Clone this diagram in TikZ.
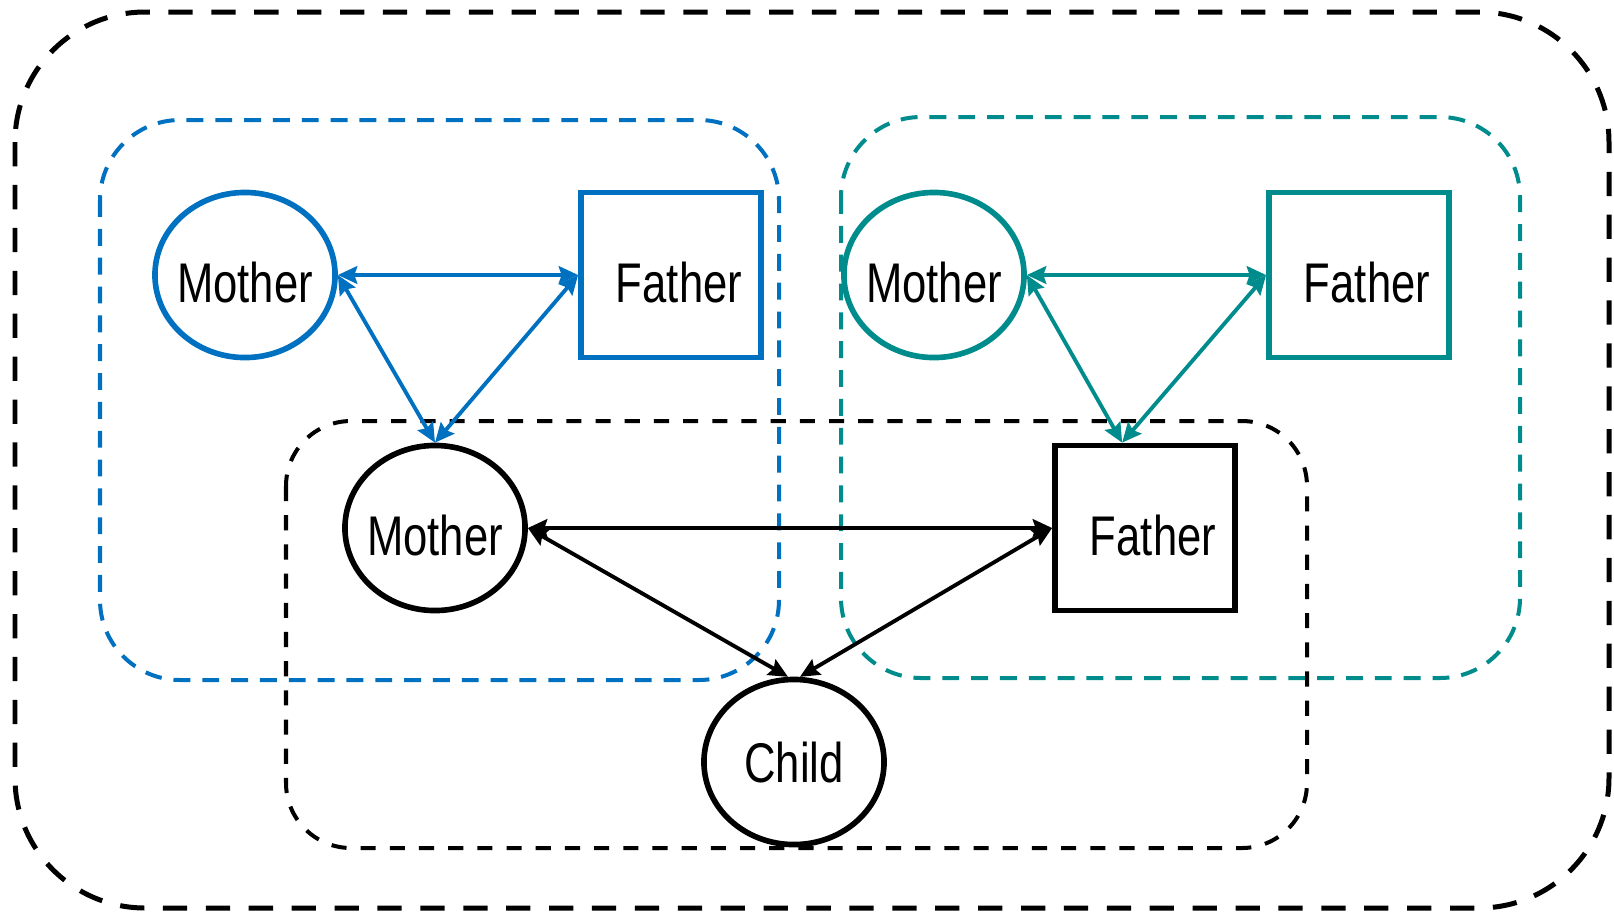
\documentclass[tikz,border=0pt]{standalone}
\usepackage{fontspec}
\newfontfamily\narrowsans[FakeStretch=0.78]{Liberation Sans}
\usetikzlibrary{shapes,arrows.meta,positioning}
\definecolor{momblue}{RGB}{0,112,192}
\definecolor{dadteal}{RGB}{0,140,140}

\begin{document}
\begin{tikzpicture}[x=0.01cm,y=-0.01cm,
    person/.style={draw, line width=1.6pt, inner sep=0pt, minimum width=1.8cm, minimum height=1.65cm,
      font=\narrowsans\fontsize{15.9}{19}\selectfont},
    mom/.style={person, ellipse, inner xsep=-5pt, text height=15.9pt, text depth=0pt},
    dad/.style={person, rectangle, text height=15.9pt, text depth=0pt, execute at begin node=\hspace*{0.16cm}},
    link/.style={{Stealth[length=5.5pt,width=5pt,inset=0.8pt]}-{Stealth[length=5.5pt,width=5pt,inset=0.8pt]}, line width=1.1pt},
    group/.style={line width=1.14pt, dash pattern=on 4.8pt off 3.4pt, rounded corners=0.8cm}]
    \useasboundingbox (0,0) rectangle (1614,911);

    % dashed groups: whole family, both sides, the parents
    \draw[line width=1.42pt, dash pattern=on 6.9pt off 5.3pt, rounded corners=1.3cm] (15,12) rectangle (1609,908);
    \draw[group, momblue] (100,120) rectangle (779,680);
    \draw[group, dadteal] (841,117) rectangle (1520,678);
    \draw[group, dash pattern=on 4.3pt off 4pt, rounded corners=0.65cm] (286,421) rectangle (1307,848);

    % grandparents on the mother's side
    \node[mom, draw=momblue] (mgmother) at (245,275) {Mother};
    \node[dad, draw=momblue] (mgfather) at (671,275) {Father};
    % grandparents on the father's side
    \node[mom, draw=dadteal] (pgmother) at (934,275) {Mother};
    \node[dad, draw=dadteal] (pgfather) at (1359,275) {Father};
    % parents and child
    \node[mom] (mother) at (435,528) {Mother};
    \node[dad] (father) at (1145,528) {Father};
    \node[person, ellipse] (child) at (794,762) {Child};

    \draw[link, momblue] (mgmother.east) -- (mgfather.west);
    \draw[link, momblue] (mgmother.east) -- (mother.north);
    \draw[link, momblue] (mgfather.west) -- (mother.north);
    \draw[link, dadteal] (pgmother.east) -- (pgfather.west);
    \draw[link, dadteal] (pgmother.east) -- (father.105);
    \draw[link, dadteal] (pgfather.west) -- (father.105);
    \draw[link] (mother.east) -- (father.west);
    \draw[link] (mother.east) -- (child.94);
    \draw[link] (father.west) -- (child.86);
\end{tikzpicture}
\end{document}
